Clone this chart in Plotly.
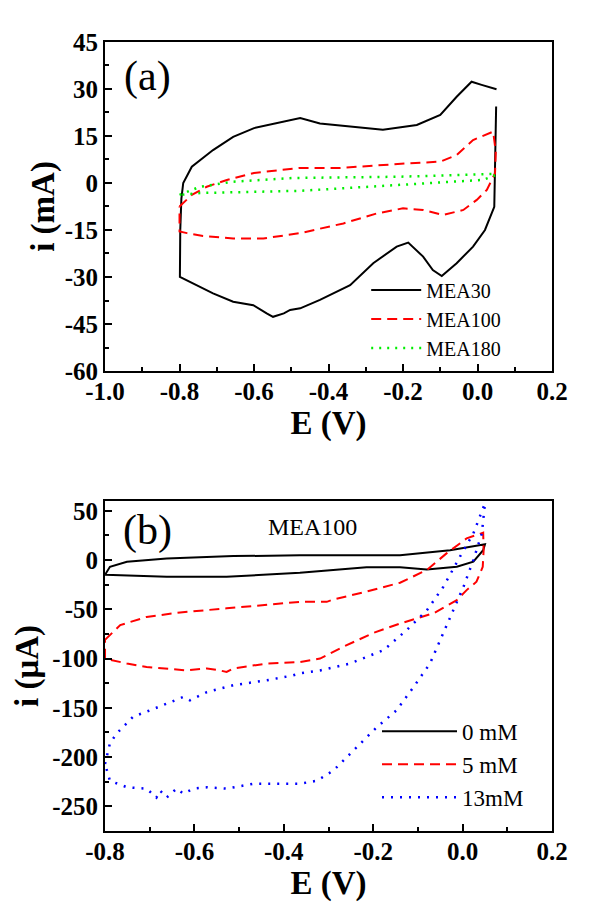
import plotly.graph_objects as go

# ---- panel (a): CVs of MEA films, current in mA ----
mea30_E = [0.050, 0.047, 0.045, 0.020, -0.012, -0.056, -0.096, -0.120, -0.146, -0.186, -0.217,
           -0.280, -0.342, -0.423, -0.476, -0.503, -0.520, -0.549, -0.566, -0.602, -0.656,
           -0.710, -0.763, -0.799, -0.798, -0.795, -0.790, -0.767, -0.710, -0.656, -0.600,
           -0.540, -0.476, -0.423, -0.360, -0.254, -0.163, -0.100, -0.056, -0.016, 0.011, 0.051]
mea30_i = [24.4, 5.0, -7.6, -15.0, -20.3, -25.6, -29.7, -27.8, -23.5, -19.0, -20.3,
           -25.6, -32.6, -37.3, -40.0, -40.5, -41.6, -42.7, -41.6, -39.0, -37.9,
           -35.2, -32.0, -30.0, -15.0, -5.0, 0.0, 5.2, 10.5, 14.7, 17.5,
           19.0, 20.7, 19.0, 18.2, 17.0, 18.5, 21.7, 27.5, 32.3, 31.3, 29.9]

mea100_E = [-0.800, -0.767, -0.727, -0.673, -0.600, -0.512, -0.476, -0.370, -0.262, -0.181,
            -0.100, -0.056, -0.012, 0.042, 0.049, 0.047, 0.025, -0.002, -0.038, -0.092,
            -0.146, -0.200, -0.270, -0.360, -0.476, -0.512, -0.575, -0.656, -0.737, -0.780,
            -0.800, -0.800]
mea100_i = [-7.5, -3.8, -1.2, 0.95, 3.2, 4.4, 4.8, 4.8, 5.7, 6.3,
            6.8, 8.9, 13.7, 16.4, 10.0, 3.1, -2.2, -5.4, -8.6, -10.2,
            -8.6, -8.1, -9.7, -12.9, -16.0, -16.6, -17.7, -17.7, -16.9, -16.0,
            -15.5, -7.5]

mea180_E = [-0.800, -0.745, -0.656, -0.495, -0.208, 0.042, 0.050, 0.016, -0.208, -0.476,
            -0.745, -0.800]
mea180_i = [-3.8, -1.2, 0.4, 1.6, 2.0, 2.9, 2.6, 1.0, -0.6, -2.5,
            -3.2, -3.8]

# ---- panel (b): MEA100 with analyte, current in uA ----
c0_E = [-0.800, -0.789, -0.751, -0.662, -0.513, -0.364, -0.140, -0.028, 0.050, 0.046,
        0.024, -0.013, -0.080, -0.140, -0.215, -0.364, -0.528, -0.662, -0.800]
c0_i = [-15.0, -6.8, -1.7, 1.7, 4.0, 4.8, 5.0, 10.0, 16.0, 10.0,
        -1.7, -6.8, -9.5, -7.4, -7.4, -12.9, -17.0, -17.0, -15.0]

c5_E = [-0.800, -0.766, -0.707, -0.632, -0.528, -0.401, -0.364, -0.304, -0.289, -0.215,
        -0.140, -0.080, -0.036, 0.009, 0.046, 0.047, 0.045, 0.031, 0.009, -0.013,
        -0.065, -0.140, -0.200, -0.267, -0.319, -0.364, -0.438, -0.513, -0.528, -0.543,
        -0.572, -0.617, -0.662, -0.707, -0.751, -0.800, -0.800]
c5_i = [-81.0, -66.0, -57.7, -53.2, -49.0, -44.0, -42.4, -42.4, -40.0, -32.0,
        -23.0, -10.0, 6.8, 22.0, 27.8, 10.0, -6.8, -22.0, -30.5, -40.7,
        -54.0, -64.4, -74.0, -88.0, -100.0, -103.5, -105.0, -110.0, -113.6, -112.0,
        -110.0, -112.0, -110.0, -108.5, -105.0, -100.0, -81.0]

c13_E = [-0.800, -0.789, -0.774, -0.737, -0.700, -0.662, -0.625, -0.610, -0.572, -0.513,
         -0.438, -0.379, -0.364, -0.319, -0.252, -0.177, -0.125, -0.080, -0.043, -0.006,
         0.024, 0.050, 0.043, 0.024, 0.002, -0.021, -0.043, -0.073, -0.110, -0.148,
         -0.192, -0.244, -0.289, -0.326, -0.364, -0.386, -0.468, -0.528, -0.572, -0.602,
         -0.625, -0.640, -0.662, -0.677, -0.685, -0.707, -0.751, -0.789, -0.800]
c13_i = [-207.0, -186.0, -176.0, -159.0, -152.6, -146.0, -139.0, -142.4, -134.0, -127.0,
         -122.0, -117.0, -115.0, -112.0, -105.0, -91.5, -71.0, -51.0, -27.0, 3.4,
         27.0, 57.7, 27.0, 0.0, -27.0, -51.0, -74.6, -105.0, -129.0, -152.6,
         -169.6, -193.0, -213.6, -224.0, -227.0, -227.0, -227.0, -232.0, -230.6, -232.0,
         -237.0, -232.0, -241.0, -234.0, -241.0, -232.0, -230.6, -224.0, -207.0]

# tick labels (plain hyphen as in the original figure)
xa_ticks = [-1.0, -0.8, -0.6, -0.4, -0.2, 0.0, 0.2]
xa_text = ["-1.0", "-0.8", "-0.6", "-0.4", "-0.2", "0.0", "0.2"]
ya_ticks = [-60, -45, -30, -15, 0, 15, 30, 45]
ya_text = ["-60", "-45", "-30", "-15", "0", "15", "30", "45"]
xb_ticks = [-0.8, -0.6, -0.4, -0.2, 0.0, 0.2]
xb_text = ["-0.8", "-0.6", "-0.4", "-0.2", "0.0", "0.2"]
yb_ticks = [-250, -200, -150, -100, -50, 0, 50]
yb_text = ["-250", "-200", "-150", "-100", "-50", "0", "50"]

SERIF = "Liberation Serif"

fig = go.Figure()

fig.add_trace(go.Scatter(x=mea30_E, y=mea30_i, mode="lines", name="MEA30",
                         line=dict(color="black", width=2), legend="legend"))
fig.add_trace(go.Scatter(x=mea100_E, y=mea100_i, mode="lines", name="MEA100",
                         line=dict(color="#ff0000", width=2, dash="10px,6px"), legend="legend"))
fig.add_trace(go.Scatter(x=mea180_E, y=mea180_i, mode="lines", name="MEA180",
                         line=dict(color="#00ee00", width=2.5, dash="2px,6px"), legend="legend"))

fig.add_trace(go.Scatter(x=c0_E, y=c0_i, mode="lines", name="0 mM", xaxis="x2", yaxis="y2",
                         line=dict(color="black", width=2), legend="legend2"))
fig.add_trace(go.Scatter(x=c5_E, y=c5_i, mode="lines", name="5 mM", xaxis="x2", yaxis="y2",
                         line=dict(color="#ff0000", width=2, dash="10px,6px"), legend="legend2"))
fig.add_trace(go.Scatter(x=c13_E, y=c13_i, mode="lines", name="13mM", xaxis="x2", yaxis="y2",
                         line=dict(color="#0000ff", width=2.5, dash="2px,7px"), legend="legend2"))

tickfont = dict(family=SERIF, size=25, color="black", weight=700)
titlefont = dict(family=SERIF, size=33, color="black", weight=700)
common = dict(showline=True, linecolor="black", linewidth=2, mirror=True,
              ticks="inside", ticklen=7, tickwidth=2, tickcolor="black",
              showgrid=False, zeroline=False, tickfont=tickfont, automargin=False,
              tickmode="array")

# the page body has an 8px margin, so domains are shifted by 8px up/left
fig.update_layout(
    width=600, height=908,
    margin=dict(l=0, r=0, t=0, b=0),
    paper_bgcolor="white", plot_bgcolor="white",
    xaxis=dict(domain=[0.1617, 0.9067], anchor="y", range=[-1.0, 0.2],
               tickvals=xa_ticks, ticktext=xa_text, ticklabelstandoff=-3,
               title=dict(text="E (V)", font=titlefont, standoff=0),
               minor=dict(ticks="inside", dtick=0.1, tick0=0, ticklen=4, tickwidth=2, tickcolor="black"),
               **common),
    yaxis=dict(domain=[0.6002, 0.9626], anchor="x", range=[-60, 45],
               tickvals=ya_ticks, ticktext=ya_text,
               title=dict(text="i (mA)", font=titlefont, standoff=0),
               minor=dict(ticks="inside", dtick=7.5, tick0=0, ticklen=4, tickwidth=2, tickcolor="black"),
               **common),
    xaxis2=dict(domain=[0.1617, 0.9067], anchor="y2", range=[-0.8, 0.2],
                tickvals=xb_ticks, ticktext=xb_text, ticklabelstandoff=-3,
                title=dict(text="E (V)", font=titlefont, standoff=0),
                minor=dict(ticks="inside", dtick=0.1, tick0=0, ticklen=4, tickwidth=2, tickcolor="black"),
                **common),
    yaxis2=dict(domain=[0.0936, 0.4571], anchor="x2", range=[-275, 60],
                tickvals=yb_ticks, ticktext=yb_text,
                title=dict(text="i (μA)", font=titlefont, standoff=4),
                minor=dict(ticks="inside", dtick=25, tick0=0, ticklen=4, tickwidth=2, tickcolor="black"),
                **common),
    legend=dict(x=0.597, y=0.711, xanchor="left", yanchor="top",
                font=dict(family=SERIF, size=20, color="black"),
                bgcolor="rgba(0,0,0,0)", itemwidth=50, tracegroupgap=0),
    legend2=dict(x=0.615, y=0.227, xanchor="left", yanchor="top",
                 font=dict(family=SERIF, size=23, color="black"),
                 bgcolor="rgba(0,0,0,0)", itemwidth=75, tracegroupgap=0),
    annotations=[
        dict(text="(a)", x=114 / 600, y=1 - 68 / 908, xref="paper", yref="paper",
             xanchor="left", yanchor="middle", showarrow=False,
             font=dict(family=SERIF, size=42, color="black")),
        dict(text="(b)", x=113 / 600, y=1 - 522 / 908, xref="paper", yref="paper",
             xanchor="left", yanchor="middle", showarrow=False,
             font=dict(family=SERIF, size=42, color="black")),
        dict(text="MEA100", x=304 / 600, y=1 - 519 / 908, xref="paper", yref="paper",
             xanchor="center", yanchor="middle", showarrow=False,
             font=dict(family=SERIF, size=24, color="black")),
    ],
)

fig.write_html("out.html")
